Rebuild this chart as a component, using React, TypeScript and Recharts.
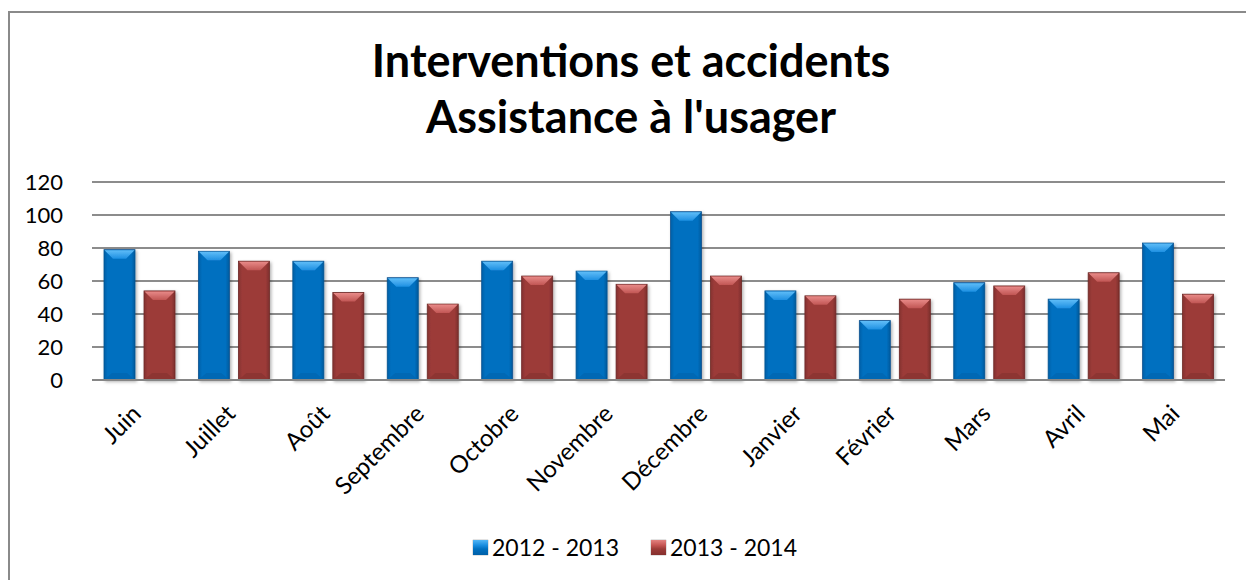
import React from 'react';
import { BarChart, Bar, XAxis, YAxis, CartesianGrid, Legend } from 'recharts';

const months = ['Juin', 'Juillet', 'Août', 'Septembre', 'Octobre', 'Novembre', 'Décembre', 'Janvier', 'Février', 'Mars', 'Avril', 'Mai'];
const serie2012 = [79, 78, 72, 62, 72, 66, 102, 54, 36, 59, 49, 83];
const serie2013 = [54, 72, 53, 46, 63, 58, 63, 51, 49, 57, 65, 52];
const seriesNames = ['2012 - 2013', '2013 - 2014'];
const yTicks = [0, 20, 40, 60, 80, 100, 120];
const titleLines = ['Interventions et accidents', "Assistance à l'usager"];

const data = months.map((m, i) => ({ month: m, a: serie2012[i], b: serie2013[i] }));

const FONT = "Lato, 'Open Sans', sans-serif";

const BevelBar = (props: any) => {
  const { x, y, width, height, kind } = props;
  if (height <= 0) return null;
  const light = kind === 'blue' ? 'url(#blueTop)' : 'url(#redTop)';
  const body = kind === 'blue' ? 'url(#blueBody)' : 'url(#redBody)';
  const edge = kind === 'blue' ? '#0a5390' : '#6e2826';
  const bottom = kind === 'blue' ? '#0066b0' : '#8a3432';
  const b = Math.min(9, height / 2);
  return (
    <g filter="url(#barShadow)">
      <rect x={x} y={y} width={width} height={height} fill={body} stroke={edge} strokeWidth={0.8} />
      <polygon
        points={`${x + 0.5},${y + 0.5} ${x + width - 0.5},${y + 0.5} ${x + width - 9},${y + b} ${x + 9},${y + b}`}
        fill={light}
      />
      <polygon
        points={`${x + 0.5},${y + height - 0.5} ${x + width - 0.5},${y + height - 0.5} ${x + width - 8},${y + height - 7} ${x + 8},${y + height - 7}`}
        fill={bottom}
        opacity={0.8}
      />
    </g>
  );
};

const MonthTick = (props: any) => {
  const { x, payload } = props;
  return (
    <g transform={`translate(${x - 9}, 403) rotate(-45)`}>
      <text x={0} y={0} dy="0.72em" textAnchor="end" fill="#000" fontSize={24} fontFamily={FONT}>
        {payload.value}
      </text>
    </g>
  );
};

const LegendContent = () => {
  const items = [
    { name: seriesNames[0], grad: 'blue' },
    { name: seriesNames[1], grad: 'red' },
  ];
  return (
    <div style={{ display: 'flex', justifyContent: 'center', alignItems: 'center', gap: 32, fontFamily: FONT, fontSize: 23, color: '#000', lineHeight: '26px' }}>
      {items.map((it) => (
        <div key={it.name} style={{ display: 'flex', alignItems: 'center' }}>
          <span
            style={{
              display: 'inline-block',
              width: 15,
              height: 15,
              marginRight: 4,
              background:
                it.grad === 'blue'
                  ? 'linear-gradient(180deg, #52b6f6 0%, #1a8ee0 35%, #0070c0 60%, #0060a8 100%)'
                  : 'linear-gradient(180deg, #e28280 0%, #c55553 35%, #9b3b38 60%, #852f2d 100%)',
              boxShadow: '0 0 1px #555',
            }}
          />
          <span>{it.name}</span>
        </div>
      ))}
    </div>
  );
};

export default function App() {
  return (
    <div style={{ position: 'absolute', left: 0, top: 0, width: 1246, height: 580, background: '#fff', overflow: 'hidden' }}>
      <div
        style={{
          position: 'absolute',
          left: 8,
          top: 11,
          width: 1400,
          height: 700,
          borderLeft: '2px solid #8a8a8a',
          borderTop: '2px solid #8a8a8a',
        }}
      />
      <svg width={1246} height={160} style={{ position: 'absolute', left: 0, top: 0 }}>
        {titleLines.map((t, i) => (
          <text
            key={t}
            x={631}
            y={i === 0 ? 77 : 133}
            textAnchor="middle"
            fontFamily={FONT}
            fontWeight={700}
            fontSize={45}
            fill="#000"
          >
            {t}
          </text>
        ))}
      </svg>
      <div style={{ position: 'absolute', left: 0, top: 0 }}>
        <BarChart
          width={1246}
          height={580}
          data={data}
          margin={{ top: 182, right: 21, left: 12, bottom: 44 }}
          barCategoryGap={12}
          barGap={9}
        >
          <defs>
            <linearGradient id="blueBody" x1="0" y1="0" x2="1" y2="0">
              <stop offset="0%" stopColor="#005fa6" />
              <stop offset="12%" stopColor="#0070c0" />
              <stop offset="88%" stopColor="#0070c0" />
              <stop offset="100%" stopColor="#005a9c" />
            </linearGradient>
            <linearGradient id="blueTop" x1="0" y1="0" x2="0" y2="1">
              <stop offset="0%" stopColor="#5fbdf8" />
              <stop offset="100%" stopColor="#1f90e2" />
            </linearGradient>
            <linearGradient id="redBody" x1="0" y1="0" x2="1" y2="0">
              <stop offset="0%" stopColor="#843230" />
              <stop offset="12%" stopColor="#9c3b39" />
              <stop offset="88%" stopColor="#9c3b39" />
              <stop offset="100%" stopColor="#7c2f2d" />
            </linearGradient>
            <linearGradient id="redTop" x1="0" y1="0" x2="0" y2="1">
              <stop offset="0%" stopColor="#e88a88" />
              <stop offset="100%" stopColor="#c15654" />
            </linearGradient>
            <filter id="barShadow" x="-20%" y="-10%" width="140%" height="120%">
              <feDropShadow dx="1.5" dy="1.5" stdDeviation="1.5" floodColor="#000" floodOpacity="0.3" />
            </filter>
          </defs>
          <CartesianGrid vertical={false} stroke="#8c8c8c" strokeWidth={1.8} />
          <XAxis
            dataKey="month"
            axisLine={{ stroke: '#868686', strokeWidth: 2 }}
            tickLine={false}
            interval={0}
            height={130}
            tick={<MonthTick />}
          />
          <YAxis
            domain={[0, 120]}
            ticks={yTicks}
            width={80}
            axisLine={false}
            tickLine={false}
            interval={0}
            tick={{ fill: '#000', fontSize: 22, fontFamily: FONT }}
            tickMargin={23}
          />
          <Legend
            verticalAlign="bottom"
            content={<LegendContent />}
            wrapperStyle={{ position: 'absolute', left: 435, top: 534, width: 400, height: 26 }}
          />
          <Bar dataKey="a" name={seriesNames[0]} isAnimationActive={false} shape={(p: any) => <BevelBar {...p} kind="blue" />} />
          <Bar dataKey="b" name={seriesNames[1]} isAnimationActive={false} shape={(p: any) => <BevelBar {...p} kind="red" />} />
        </BarChart>
      </div>
    </div>
  );
}
